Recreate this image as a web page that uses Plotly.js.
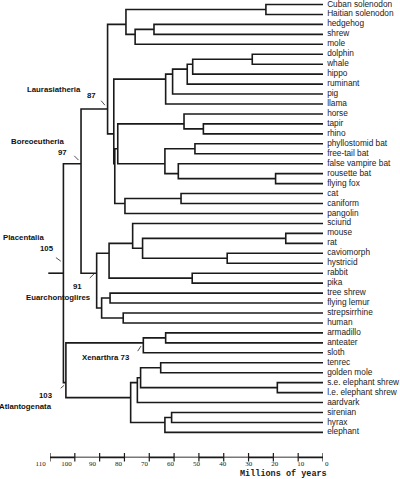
<!DOCTYPE html>
<html><head><meta charset="utf-8">
<script src="https://cdn.plot.ly/plotly-3.0.1.min.js"></script>
<style>html,body{margin:0;padding:0;background:#fff}#chart{width:400px;height:479px}</style>
</head><body><div id="chart"></div>
<script>
// ---------- DATA ----------
const leafNames = ["Cuban solenodon","Haitian solenodon","hedgehog","shrew","mole","dolphin","whale","hippo","ruminant","pig","llama","horse","tapir","rhino","phyllostomid bat","free-tail bat","false vampire bat","rousette bat","flying fox","cat","caniform","pangolin","sciurid","mouse","rat","caviomorph","hystricid","rabbit","pika","tree shrew","flying lemur","strepsirrhine","human","armadillo","anteater","sloth","tenrec","golden mole","s.e. elephant shrew","l.e. elephant shrew","aardvark","sirenian","hyrax","elephant"];

const cladeNames = ["Solenodontidae","HedgehogShrew","HedgehogShrewMole","Eulipotyphla","Cetacea","Whippomorpha","Cetruminantia","Artiofabula","Cetartiodactyla","TapirRhino","Perissodactyla","Microbats","Pteropodidae","BatsB","Chiroptera","PerissoChiroptera","Carnivora","Ferae","Scrotifera","Fereuungulata","Laurasiatheria","Muridae","Hystricognathi","RodentsB","Rodentia","Lagomorpha","Glires","Sundatheria","Primates","Euarchonta","Euarchontoglires","Boreoeutheria","ArmadilloAnteater","Xenarthra","Afrosoricida","Macroscelidea","Afroinsectivora","Afroinsectiphilia","SirenianHyrax","Paenungulata","Afrotheria","Atlantogenata","Placentalia"];

const cladeAges = [23.0,68.1,75.7,79.4,28.5,52.5,54.7,60.6,63.4,48.2,56.0,51.6,19.1,58.3,63.7,82.7,57.2,79.8,83.9,84.3,86.8,15.0,38.6,72.7,76.7,52.7,86.2,85.8,80.5,89.2,91.2,97.5,63.4,72.4,65.4,18.4,73.5,74.8,61.0,63.7,77.5,103.6,104.6];

const cladeChildren = [
  ["Cuban solenodon","Haitian solenodon"],
  ["hedgehog","shrew"],
  ["HedgehogShrew","mole"],
  ["Solenodontidae","HedgehogShrewMole"],
  ["dolphin","whale"],
  ["Cetacea","hippo"],
  ["Whippomorpha","ruminant"],
  ["Cetruminantia","pig"],
  ["Artiofabula","llama"],
  ["tapir","rhino"],
  ["horse","TapirRhino"],
  ["phyllostomid bat","free-tail bat"],
  ["rousette bat","flying fox"],
  ["false vampire bat","Pteropodidae"],
  ["Microbats","BatsB"],
  ["Perissodactyla","Chiroptera"],
  ["cat","caniform"],
  ["Carnivora","pangolin"],
  ["PerissoChiroptera","Ferae"],
  ["Cetartiodactyla","Scrotifera"],
  ["Eulipotyphla","Fereuungulata"],
  ["mouse","rat"],
  ["caviomorph","hystricid"],
  ["Muridae","Hystricognathi"],
  ["sciurid","RodentsB"],
  ["rabbit","pika"],
  ["Rodentia","Lagomorpha"],
  ["tree shrew","flying lemur"],
  ["strepsirrhine","human"],
  ["Sundatheria","Primates"],
  ["Glires","Euarchonta"],
  ["Laurasiatheria","Euarchontoglires"],
  ["armadillo","anteater"],
  ["ArmadilloAnteater","sloth"],
  ["tenrec","golden mole"],
  ["s.e. elephant shrew","l.e. elephant shrew"],
  ["Afrosoricida","Macroscelidea"],
  ["Afroinsectivora","aardvark"],
  ["sirenian","hyrax"],
  ["SirenianHyrax","elephant"],
  ["Afroinsectiphilia","Paenungulata"],
  ["Xenarthra","Afrotheria"],
  ["Boreoeutheria","Atlantogenata"]
];

const rootStemAge = 110.7;

const labelClades  = ["Laurasiatheria","Boreoeutheria","Placentalia","Euarchontoglires","Xenarthra","Atlantogenata"];
const labelSupport = ["87","97","105","91","73","103"];

const scaleTicks = [110,100,90,80,70,60,50,40,30,20,10,0];
const scaleTitle = "Millions of years";

// ---------- LAYOUT COMPUTATION ----------
const age = {}, yPos = {}, leafSet = {};
leafNames.forEach((n,i)=>{ age[n]=0; yPos[n]=i; leafSet[n]=[i]; });
cladeNames.forEach((n,k)=>{
  age[n] = cladeAges[k];
  const L = [].concat(...cladeChildren[k].map(c=>leafSet[c]));
  leafSet[n] = L;
  yPos[n] = L.reduce((a,b)=>a+b,0)/L.length;
});
const rootK = cladeNames.length-1, root = cladeNames[rootK];
yPos[root] = (yPos[cladeChildren[rootK][0]] + yPos[cladeChildren[rootK][1]])/2;

const bx = [], by = [];
cladeNames.forEach((n,k)=>{
  const [c1,c2] = cladeChildren[k];
  bx.push(age[c1], age[n], age[n], age[c2], null);
  by.push(yPos[c1], yPos[c1], yPos[c2], yPos[c2], null);
});
bx.push(rootStemAge, age[root], null); by.push(yPos[root], yPos[root], null);

const INK = '#1a1a1a';
const traces = [];
traces.push({type:'scatter', mode:'lines', x:bx, y:by, xaxis:'x', yaxis:'y',
  line:{color:INK, width:1.6}, hoverinfo:'skip', showlegend:false});
traces.push({type:'scatter', mode:'text', x:leafNames.map(()=>0), y:leafNames.map((n,i)=>i),
  text:leafNames.map(n=>'\u2002'+n), textposition:'middle right', cliponaxis:false,
  textfont:{family:'Liberation Sans, Arial, sans-serif', size:8.3, color:'#222'},
  hoverinfo:'skip', showlegend:false});

// scale bar (alternating segments)
const darkX=[], darkY=[], greyX=[], greyY=[];
for(let k=0;k<scaleTicks.length-1;k++){
  const tx = k%2===0 ? darkX : greyX, ty = k%2===0 ? darkY : greyY;
  tx.push(scaleTicks[k], scaleTicks[k+1], null); ty.push(0,0,null);
}
traces.push({type:'scatter', mode:'lines', x:greyX, y:greyY, xaxis:'x2', yaxis:'y2',
  line:{color:'#777', width:1.6}, hoverinfo:'skip', showlegend:false});
traces.push({type:'scatter', mode:'lines', x:darkX, y:darkY, xaxis:'x2', yaxis:'y2',
  line:{color:INK, width:1.8}, hoverinfo:'skip', showlegend:false});
traces.push({type:'scatter', mode:'markers', x:scaleTicks, y:scaleTicks.map(()=>0), xaxis:'x2', yaxis:'y2',
  marker:{symbol:'line-ns-open', size:6, color:INK, line:{color:INK, width:1.2}}, hoverinfo:'skip', showlegend:false});
traces.push({type:'scatter', mode:'markers', x:scaleTicks, y:scaleTicks.map(()=>0), xaxis:'x3', yaxis:'y2',
  marker:{opacity:0}, hoverinfo:'skip', showlegend:false});

// callout styling (pixel offsets relative to node)
const callout = {
  Laurasiatheria:   {name:[-24.4,-19.1], num:[-9.4,-13.1], tail:[-7.7,-9.8], head:[-2.7,-3.8]},
  Boreoeutheria:    {name:[-14.3,-21.9], num:[-12,-11.2], tail:[-8.3,-9.4], head:[-2.5,-3.6]},
  Placentalia:      {name:[-17.3,-35.4], num:[-7.3,-24.4], tail:[-9,-16.7], head:[-2.6,-12]},
  Euarchontoglires: {name:[-4,24], num:[-12.7,13.3], tail:[-8.4,6.3], head:[-2.5,0.6]},
  Xenarthra:        {combined:[-11,14.2], tail:[-6.6,9.8], head:[-2.3,3.2]},
  Atlantogenata:    {name:[-11.7,23.6], num:[-11,12.6], tail:[-6.7,6.9], head:[-1.7,2.6]}
};
const boldFont = {family:'Liberation Sans, Arial, sans-serif', size:7.8, color:'#111'};
const annotations = [];
labelClades.forEach((c,i)=>{
  const s = callout[c];
  const base = {x:age[c], y:yPos[c], xref:'x', yref:'y', showarrow:false, xanchor:'right', yanchor:'middle', font:boldFont};
  if(s.combined){
    annotations.push(Object.assign({}, base, {text:'<b>'+c+' '+labelSupport[i]+'</b>', xshift:s.combined[0], yshift:-s.combined[1]}));
  } else {
    annotations.push(Object.assign({}, base, {text:'<b>'+c+'</b>', xshift:s.name[0], yshift:-s.name[1]}));
    annotations.push(Object.assign({}, base, {text:'<b>'+labelSupport[i]+'</b>', xshift:s.num[0], yshift:-s.num[1]}));
  }
  annotations.push({x:age[c], y:yPos[c], xref:'x', yref:'y', text:'', showarrow:true, arrowhead:0,
    arrowwidth:0.8, arrowcolor:'#222', standoff:0, startstandoff:0,
    ax:s.tail[0]-s.head[0], ay:s.tail[1]-s.head[1], xshift:s.head[0], yshift:-s.head[1]});
});
annotations.push({xref:'paper', yref:'paper', x:329/400, y:5/479, xanchor:'right', yanchor:'middle',
  text:'<b>'+scaleTitle+'</b>', showarrow:false,
  font:{family:'Liberation Mono, Courier New, monospace', size:8.5, color:'#222'}});

const layout = {
  width:400, height:479, autosize:false,
  margin:{l:0,r:0,t:0,b:0,pad:0},
  paper_bgcolor:'#fff', plot_bgcolor:'rgba(0,0,0,0)',
  showlegend:false,
  xaxis:{domain:[0,1], range:[130.15,-31.03], visible:false, fixedrange:true},
  yaxis:{domain:[0,1], range:[47.68,-0.45], visible:false, fixedrange:true},
  xaxis2:{domain:[0.125,0.8075], range:[110,0], visible:false, anchor:'y2'},
  yaxis2:{domain:[0,0.0906], range:[-1,1], visible:false, anchor:'x2'},
  xaxis3:{domain:[0,1], range:[125.57,-28.17], anchor:'free', position:0.0453,
    showline:false, showgrid:false, zeroline:false, ticks:'', tickmode:'array',
    tickvals:scaleTicks, ticktext:scaleTicks.map(String), ticklabelstandoff:1,
    tickfont:{family:'Liberation Serif, Times New Roman, serif', size:7, color:'#222'}},
  annotations:annotations
};
Plotly.newPlot('chart', traces, layout, {displayModeBar:false, staticPlot:true});
</script>
</body></html>
